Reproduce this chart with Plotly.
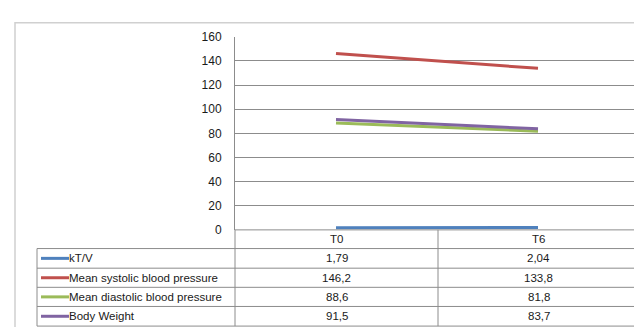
import plotly.graph_objects as go

categories = ["T0", "T6"]
series_names = ["kT/V", "Mean systolic blood pressure", "Mean diastolic blood pressure", "Body Weight"]
ktv = [1.79, 2.04]
systolic = [146.2, 133.8]
diastolic = [88.6, 81.8]
body_weight = [91.5, 83.7]
value_labels = [["1,79", "2,04"], ["146,2", "133,8"], ["88,6", "81,8"], ["91,5", "83,7"]]
colors = ["#4F81BD", "#C0504D", "#9BBB59", "#8064A2"]
y_ticks = [0, 20, 40, 60, 80, 100, 120, 140, 160]

W, H = 642, 327
FONT = "Liberation Sans"
TXT = "#1a1a1a"
FS = 11.5

def px(x):
    return x / W

def py(y):
    return 1 - y / H

plot_l, plot_r, plot_t, plot_b = 227, 631, 22.7, 224.5

fig = go.Figure()
all_series = [ktv, systolic, diastolic, body_weight]
for name, vals, col in zip(series_names, all_series, colors):
    fig.add_trace(go.Scatter(x=categories, y=vals, mode="lines", name=name,
                             line=dict(color=col, width=3), showlegend=False))

shapes = []
annotations = []
grid = "#8c8c8c"
shapes.append(dict(type="rect", xref="paper", yref="paper", x0=px(7), x1=px(634), y0=py(335), y1=py(8),
                   line=dict(color="#d0d0d0", width=1.5), layer="below"))

row_edges = [224.5, 244, 264.5, 284.5, 304.5, 325]
tbl_left = 29
col_div = 430
shapes.append(dict(type="line", xref="paper", yref="paper", x0=px(plot_l), x1=px(plot_r),
                   y0=py(row_edges[0]), y1=py(row_edges[0]), line=dict(color=grid, width=1)))
for ye in row_edges[1:]:
    shapes.append(dict(type="line", xref="paper", yref="paper", x0=px(tbl_left), x1=px(plot_r),
                       y0=py(ye), y1=py(ye), line=dict(color=grid, width=1)))
shapes.append(dict(type="line", xref="paper", yref="paper", x0=px(tbl_left), x1=px(tbl_left),
                   y0=py(row_edges[1]), y1=py(row_edges[-1]), line=dict(color=grid, width=1)))
for xv in [plot_l, col_div, plot_r]:
    shapes.append(dict(type="line", xref="paper", yref="paper", x0=px(xv), x1=px(xv),
                       y0=py(row_edges[0]), y1=py(row_edges[-1]), line=dict(color=grid, width=1)))

col_centers = [(plot_l + col_div) / 2, (col_div + plot_r) / 2]
for c, cx in zip(categories, col_centers):
    annotations.append(dict(x=px(cx), y=py((row_edges[0] + row_edges[1]) / 2), xref="paper", yref="paper",
                            text=c, showarrow=False, xanchor="center", yanchor="middle",
                            font=dict(family=FONT, size=FS, color=TXT)))

for i, (name, col, labels) in enumerate(zip(series_names, colors, value_labels)):
    ymid = (row_edges[i + 1] + row_edges[i + 2]) / 2
    shapes.append(dict(type="line", xref="paper", yref="paper", x0=px(33), x1=px(61),
                       y0=py(ymid), y1=py(ymid), line=dict(color=col, width=3)))
    annotations.append(dict(x=px(59), y=py(ymid), xref="paper", yref="paper", text=name,
                            showarrow=False, xanchor="left", yanchor="middle",
                            font=dict(family=FONT, size=FS, color=TXT)))
    for lab, cx in zip(labels, col_centers):
        annotations.append(dict(x=px(cx), y=py(ymid), xref="paper", yref="paper", text=lab,
                                showarrow=False, xanchor="center", yanchor="middle",
                                font=dict(family=FONT, size=FS, color=TXT)))

fig.update_layout(
    width=W, height=H,
    margin=dict(l=0, r=0, t=0, b=0),
    paper_bgcolor="white", plot_bgcolor="white",
    shapes=shapes, annotations=annotations,
    xaxis=dict(domain=[px(plot_l), px(plot_r)], range=[-0.5, 1.5], showticklabels=False,
               showgrid=False, zeroline=False, showline=False, fixedrange=True),
    yaxis=dict(domain=[py(plot_b), py(plot_t)], range=[0, 160], tickvals=y_ticks,
               showgrid=True, gridcolor=grid, gridwidth=1, zeroline=False,
               showline=True, linecolor=grid, linewidth=1, ticks="",
               ticklabelstandoff=10,
               tickfont=dict(family=FONT, size=12, color=TXT)),
)

fig.write_html("out.html")
